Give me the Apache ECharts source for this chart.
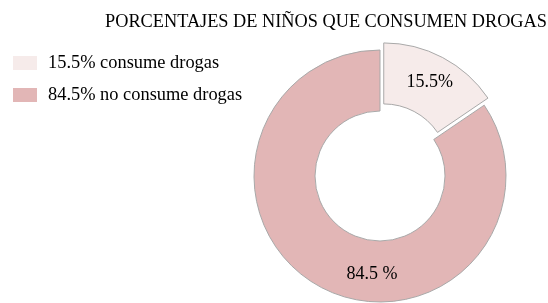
<!DOCTYPE html>
<html>
<head>
<meta charset="utf-8">
<script src="https://cdn.jsdelivr.net/npm/echarts@6/dist/echarts.min.js"></script>
<style>
  html, body { margin: 0; padding: 0; background: #fff; }
  #chart { width: 548px; height: 303px; }
</style>
</head>
<body>
<div id="chart"></div>
<script>
// datos del grafico
var categorias = ['15.5% consume drogas', '84.5% no consume drogas'];
var valores = [15.5, 84.5];
var etiquetas = ['15.5%', '84.5 %'];
var colores = ['#f6ebea', '#e2b6b6'];

init();

function init(){
    var chart = echarts.init(document.getElementById('chart'));
    var font = '"Liberation Serif", "Times New Roman", serif';
    var data = [];
    for (var i = 0; i < categorias.length; i++) {
        data.push({
            name: categorias[i],
            value: valores[i],
            selected: i === 0,
            itemStyle: { color: colores[i] },
            label: {
                formatter: etiquetas[i],
                offset: i === 1 ? [38, 11] : [1, -3]
            }
        });
    }
    chart.setOption({
        backgroundColor: '#ffffff',
        animation: false,
        title: {
            text: 'PORCENTAJES DE NIÑOS QUE CONSUMEN DROGAS',
            left: 321,
            textAlign: 'center',
            top: 8,
            textStyle: {
                fontFamily: font,
                fontWeight: 'normal',
                fontSize: 18.3,
                color: '#000'
            }
        },
        legend: {
            orient: 'vertical',
            left: 8,
            top: 49,
            icon: 'rect',
            itemWidth: 24,
            itemHeight: 14,
            itemGap: 14,
            itemStyle: { borderWidth: 0 },
            textStyle: {
                fontFamily: font,
                fontSize: 18.4,
                color: '#000',
                padding: [0, 0, 0, 6]
            },
            data: categorias
        },
        series: [
            {
                type: 'pie',
                center: [380, 176],
                radius: [65, 126],
                startAngle: 90,
                clockwise: true,
                selectedMode: 'single',
                selectedOffset: 8,
                itemStyle: {
                    borderColor: '#a9a9a9',
                    borderWidth: 1
                },
                label: {
                    show: true,
                    position: 'inside',
                    fontFamily: font,
                    fontSize: 18,
                    color: '#000'
                },
                labelLine: { show: false },
                emphasis: { disabled: true },
                data: data
            }
        ]
    });
}
</script>
</body>
</html>
